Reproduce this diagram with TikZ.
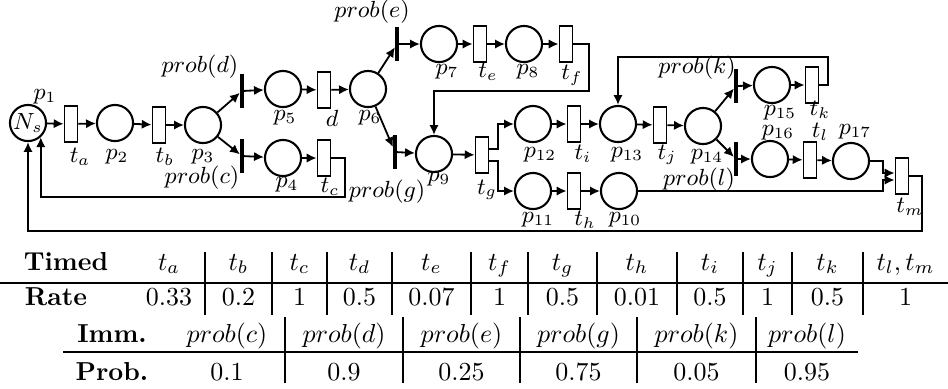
\documentclass[tikz,border=0pt]{standalone}
\usepackage{amsmath,amssymb}
\usepackage{tikz}
\usetikzlibrary{arrows.meta, positioning, calc}
\tikzset{
  place/.style={circle, draw, line width=0.8pt, minimum size=13.9pt, inner sep=0pt},
  timedtr/.style={rectangle, draw, line width=0.7pt, minimum width=5pt, minimum height=13.9pt, inner sep=0pt},
  immtr/.style={rectangle, fill=black, minimum width=1.2pt, minimum height=13pt, inner sep=0pt},
  arc/.style={-{Latex[length=3.8pt,width=3.6pt]}, line width=0.7pt},
  lbl/.style={font=\fontsize{8.6}{10}\selectfont, inner sep=0pt},
  tabtxt/.style={font=\fontsize{10}{12}\selectfont, anchor=base, inner sep=0pt},
  rule/.style={line width=0.6pt}
}

\begin{document}
\begin{tikzpicture}[x=0.01353cm, y={(0,-0.01353cm)}, font=\fontsize{8.6}{10}\selectfont]
  \useasboundingbox (0,0) rectangle (948,388);
  % places
  \node[place] (Ns) at (28,123) {$N_s$};
  \foreach \n/\x/\y in {p2/115/123, p3/203/125, p5/283/89, p4/283/158, p6/368/89,
      p7/439/44, p8/524/44, p9/434/154, p12/533/124, p11/533/191, p13/618/124,
      p10/619/191, p14/703/126, p15/772/85, p16/770/159, p17/851/161}
    \node[place] (\n) at (\x,\y) {};
  % timed transitions
  \foreach \n/\x/\y in {ta/71/124, tb/159/125, td/324/90, tc/324/158, te/480/44,
      tf/566/44, tg/482/155, ti/574/124, th/574/191, tj/660/125, tk/812/85,
      tl/810/160, tm/902/176}
    \node[timedtr] (\n) at (\x,\y) {};
  % immediate transitions
  \foreach \n/\x/\y in {bd/242/91, bc/242/156, be/397/44, bg/395/152, bk/736/86, bl/736/159}
    \node[immtr] (\n) at (\x,\y) {};
  % bends
  \coordinate (c1) at (345,197);
  \coordinate (c2) at (922,231);
  \coordinate (f1) at (589,91);
  \coordinate (g1) at (498,124);
  \coordinate (g2) at (498,191);
  \coordinate (k1) at (828,57);
  \coordinate (m1) at (883,173);
  \coordinate (m2) at (883,180);

  % arcs
  \draw[arc] (Ns) -- (ta);
  \draw[arc] (ta) -- (p2);
  \draw[arc] (p2) -- (tb);
  \draw[arc] (tb) -- (p3);
  \draw[arc] (p3) -- (bd);
  \draw[arc] (p3) -- (bc);
  \draw[arc] (bd) -- (p5);
  \draw[arc] (p5) -- (td);
  \draw[arc] (td) -- (p6);
  \draw[arc] (bc) -- (p4);
  \draw[arc] (p4) -- (tc);
  \draw[arc] (tc.east) -| (c1) -| (Ns.-48);
  \draw[arc] (p6) -- (be);
  \draw[arc] (p6) -- (bg);
  \draw[arc] (be) -- (p7);
  \draw[arc] (p7) -- (te);
  \draw[arc] (te) -- (p8);
  \draw[arc] (p8) -- (tf);
  \draw[arc] (tf.east) -| (f1) -| (p9.north);
  \draw[arc] (bg) -- (p9);
  \draw[arc] (p9) -- (tg);
  \draw[arc] (tg.38) -| (g1) -- (p12);
  \draw[arc] (tg.-38) -| (g2) -- (p11);
  \draw[arc] (p12) -- (ti);
  \draw[arc] (ti) -- (p13);
  \draw[arc] (p11) -- (th);
  \draw[arc] (th) -- (p10);
  \draw[arc] (p13) -- (tj);
  \draw[arc] (tj) -- (p14);
  \draw[arc] (p14) -- (bk);
  \draw[arc] (p14) -- (bl);
  \draw[arc] (bk) -- (p15);
  \draw[arc] (p15) -- (tk);
  \draw[arc] (tk.east) -| (k1) -| (p13.north);
  \draw[arc] (bl) -- (p16);
  \draw[arc] (p16) -- (tl);
  \draw[arc] (tl) -- (p17);
  \draw[arc] (p17.east) -| (m1) -- (m1 -| tm.west);
  \draw[arc] (p10.east) -| (m2) -- (m2 -| tm.west);
  \draw[arc] (tm.east) -| (c2) -| (Ns.south);

  % labels
  \foreach \n/\x/\y/\t in {lp1/45/97/p_1, lta/80/157/t_a, lp2/117/157/p_2, ltb/165/157/t_b,
      lp3/203/157/p_3, lp5/285/118/p_5, ltd/332/118/d, lp6/370/118/p_6, lp4/287/185/p_4,
      ltc/330/187/t_c, lp7/447/72/p_7, lte/488/72/t_e, lp8/528/72/p_8, ltf/572/75/t_f,
      lp9/439/179/p_9, ltg/487/190/t_g, lp12/540/155/p_{12}, lti/583/154/t_i,
      lp13/627/155/p_{13}, lp11/538/220/p_{11}, lth/585/220/t_h, lp10/625/220/p_{10},
      lp15/780/113/p_{15}, ltk/820/110/t_k, ltj/667/155/t_j, lp14/707/157/p_{14},
      lp16/778/133/p_{16}, ltl/820/132/t_l, lp17/855/132/p_{17}, ltm/910/207/t_m}
    \node[lbl] (\n) at (\x,\y) {$\t$};
  \foreach \n/\x/\y/\t in {lprc/202/178/c, lprd/200/67/d, lpre/372/12/e, lprg/387/192/g,
      lprk/697/68/k, lprl/699/180/l}
    \node[lbl] (\n) at (\x,\y) {$prob(\t)$};

  % timed rates table
  \node[tabtxt] (hTimed) at (66,270) {\bfseries Timed};
  \node[tabtxt] (hRate) at (56,305) {\bfseries Rate};
  \draw[rule] (0,283) -- (948,283);
  \foreach \x in {205,272,327,392,471,528,597,677,743,792,863}
    \draw[rule] (\x,252) -- (\x,315);
  \foreach \x/\h/\r [count=\i] in {169/t_a/0.33, 238.5/t_b/0.2, 299.5/t_c/1, 359.5/t_d/0.5,
      431.5/t_e/0.07, 499.5/t_f/1, 562.5/t_g/0.5, 637/t_h/0.01, 710/t_i/0.5,
      767.5/t_j/1, 827.5/t_k/0.5, 905.5/{t_l,t_m}/1}{
    \node[tabtxt] (th\i) at (\x,270) {$\h$};
    \node[tabtxt] (tr\i) at (\x,305) {$\r$};
  }
  % immediate probabilities table
  \node[tabtxt] (hImm) at (112,342) {\bfseries Imm.};
  \node[tabtxt] (hProb) at (112,380) {\bfseries Prob.};
  \draw[rule] (63,352) -- (858,352);
  \foreach \x in {285,403,520,637,756}
    \draw[rule] (\x,317) -- (\x,383);
  \foreach \x/\h/\r [count=\i] in {227/c/0.1, 344/d/0.9, 461.5/e/0.25, 578.5/g/0.75,
      696.5/k/0.05, 807/l/0.95}{
    \node[tabtxt] (ih\i) at (\x,342) {$prob(\h)$};
    \node[tabtxt] (ir\i) at (\x,380) {$\r$};
  }
\end{tikzpicture}
\end{document}
